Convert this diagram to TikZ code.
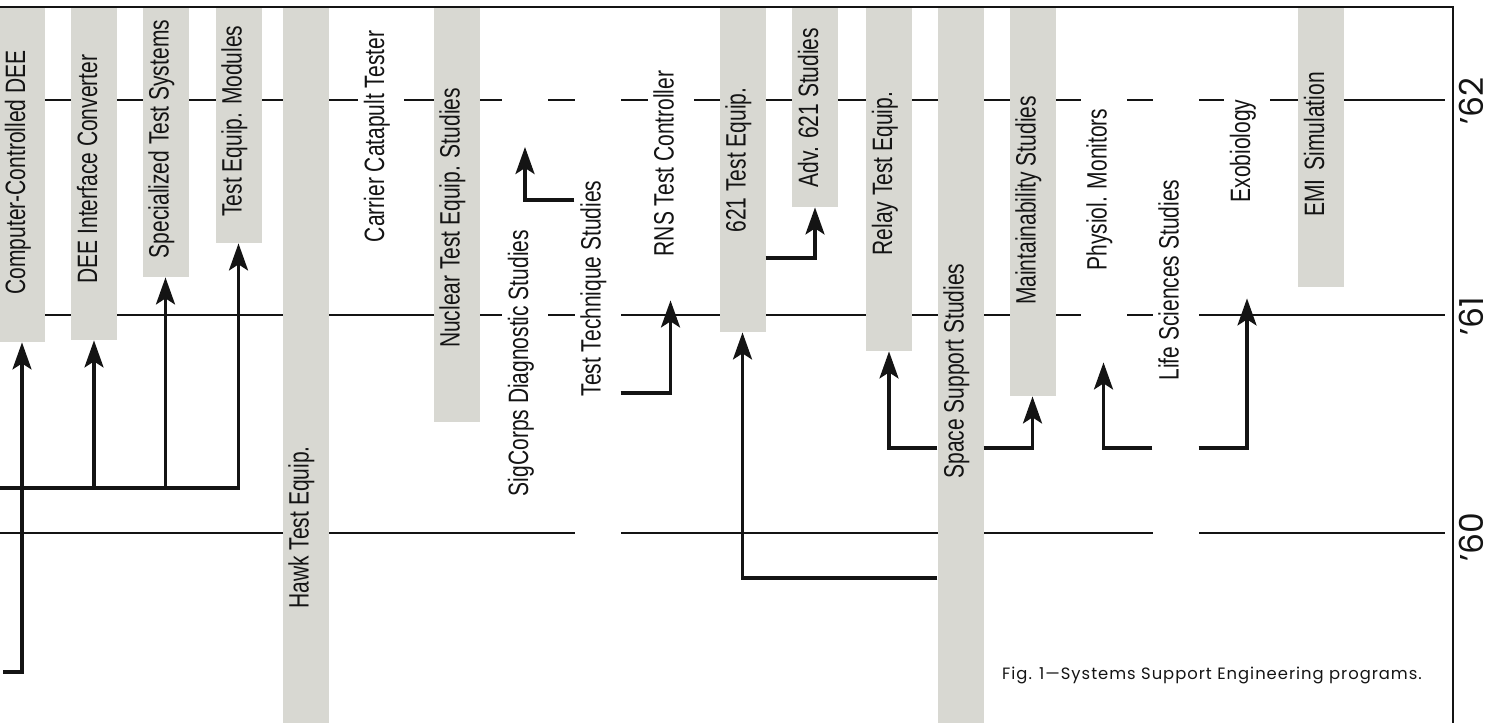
\documentclass[tikz,border=0pt]{standalone}
\usepackage{fontspec}
\usetikzlibrary{arrows.meta}
\newfontfamily\barfont[FakeStretch=0.75]{Liberation Sans}
\newfontfamily\geofont{Poppins}
\definecolor{bargray}{RGB}{216,216,210}
\definecolor{ink}{RGB}{20,20,20}
\begin{document}
\begin{tikzpicture}[x=1pt,y=-1pt,
  gridline/.style={line width=1.8pt, ink},
  frameline/.style={line width=2.4pt, ink},
  graybar/.style={fill=bargray, draw=none, minimum width=46pt, inner sep=0pt, anchor=north},
  blankbar/.style={fill=white, draw=none, minimum width=46pt, inner sep=0pt, anchor=north},
  lbl/.style={rotate=90, font=\barfont\fontsize{28}{28}\selectfont, inner sep=0pt, text height=0.72em, text depth=0.12em, text=ink},
  arr/.style={line width=3.4pt, ink, -{Stealth[length=27pt,width=19pt,inset=6pt]}},
  yearlbl/.style={rotate=90, font=\geofont\fontsize{33}{33}\selectfont, inner sep=0pt, text height=0.7em, text depth=0pt, text=ink},
  captxt/.style={font=\geofont\fontsize{16.4}{17}\selectfont\addfontfeature{LetterSpace=6}, inner sep=0pt, anchor=west, text=ink}
]
\useasboundingbox (0,0) rectangle (1498,723);
% year lines
\draw[gridline] (0,100) -- (1445,100);
\draw[gridline] (0,315) -- (1445,315);
\draw[gridline] (0,533) -- (1445,533);
% bars
\node[graybar, minimum height=335pt] (b1) at (22,7) {};
\node[graybar, minimum height=333pt] (b2) at (94,7) {};
\node[graybar, minimum height=270pt] (b3) at (165.5,7) {};
\node[graybar, minimum height=236pt] (b4) at (238.5,7) {};
\node[graybar, minimum height=716pt] (b5) at (305.5,7) {};
\node[blankbar, minimum height=283pt] (b6) at (381,7) {};
\node[graybar, minimum height=415pt] (b7) at (456.5,7) {};
\node[blankbar, minimum height=505pt] (b8) at (525,7) {};
\node[blankbar, minimum height=548pt] (b9) at (597.5,7) {};
\node[blankbar, minimum height=293pt] (b10) at (670.5,7) {};
\node[graybar, minimum height=325pt] (b11) at (742.5,7) {};
\node[graybar, minimum height=200pt] (b12) at (815,7) {};
\node[graybar, minimum height=344pt] (b13) at (889,7) {};
\node[graybar, minimum height=716pt] (b14) at (960.5,7) {};
\node[graybar, minimum height=389pt] (b15) at (1032.5,7) {};
\node[blankbar, minimum height=355pt] (b16) at (1103.5,7) {};
\node[blankbar, minimum height=553pt] (b17) at (1175.5,7) {};
\node[blankbar, minimum height=291pt] (b18) at (1247,7) {};
\node[graybar, minimum height=280pt] (b19) at (1321,7) {};
% frame
\draw[frameline] (0,7) -- (1453,7) -- (1453,723);
% labels
\node[lbl] (t1) at (22,172.5) {Computer-Controlled DEE};
\node[lbl] (t2) at (94,169) {DEE Interface Converter};
\node[lbl] (t3) at (165.5,139) {Specialized Test Systems};
\node[lbl] (t4) at (238.5,121) {Test Equip. Modules};
\node[lbl] (t5) at (305.5,527.5) {Hawk Test Equip.};
\node[lbl] (t6) at (381,136.5) {Carrier Catapult Tester};
\node[lbl] (t7) at (456.5,218) {Nuclear Test Equip. Studies};
\node[lbl] (t8) at (525,363) {SigCorps Diagnostic Studies};
\node[lbl] (t9) at (597.5,288.5) {Test Technique Studies};
\node[lbl] (t10) at (670.5,163.5) {RNS Test Controller};
\node[lbl] (t11) at (742.5,160) {621 Test Equip.};
\node[lbl] (t12) at (815,107.5) {Adv. 621 Studies};
\node[lbl] (t13) at (889,173.5) {Relay Test Equip.};
\node[lbl] (t14) at (960.5,371) {Space Support Studies};
\node[lbl] (t15) at (1032.5,200.5) {Maintainability Studies};
\node[lbl] (t16) at (1103.5,189.5) {Physiol. Monitors};
\node[lbl] (t17) at (1175.5,280) {Life Sciences Studies};
\node[lbl] (t18) at (1247,151) {Exobiology};
\node[lbl] (t19) at (1321,144.5) {EMI\,\,Simulation};
% years
\node[yearlbl] (y62) at (1480,101) {’62};
\node[yearlbl] (y61) at (1480,316) {’61};
\node[yearlbl] (y60) at (1480,537) {’60};
% caption
\node[captxt] (cap) at (1002,675) {Fig. 1—Systems Support Engineering programs.};
% connectors
\coordinate (srcA) at (0,488);
\coordinate (srcB) at (3,672);
\coordinate (sigtip) at (525,147);
\draw[arr] (srcB) -| (b1.south);
\draw[arr] (srcA) -| (b4.south);
\draw[arr] (b2.south |- srcA) -- (b2.south);
\draw[arr] (b3.south |- srcA) -- (b3.south);
\draw[arr] (b9.west |- 0,200) -| (sigtip);
\draw[arr] (b9.east |- 0,393) -| (b10.south);
\draw[arr] (b14.west |- 0,578) -| (b11.south);
\draw[arr] (b11.east |- 0,258) -| (b12.south);
\draw[arr] (b14.west |- 0,448) -| (b13.south);
\draw[arr] (b14.east |- 0,448) -| (b15.south);
\draw[arr] (b17.west |- 0,448) -| (b16.south);
\draw[arr] (b17.east |- 0,448) -| (b18.south);
\end{tikzpicture}
\end{document}
